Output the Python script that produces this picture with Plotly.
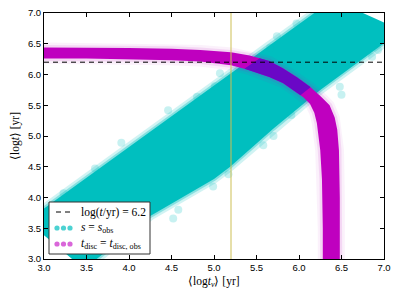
import plotly.graph_objects as go

# ---------------- data ----------------
# cyan band (s = s_obs): edges of the dense cloud
cyan_upper_x = [2.80, 3.19, 3.46, 3.66, 4.25, 4.80, 5.30, 5.74, 6.13, 6.40]
cyan_upper_y = [3.62, 4.01, 4.29, 4.48, 5.07, 5.62, 6.12, 6.56, 6.95, 7.22]
cyan_lower_x = [3.45, 3.62, 4.25, 5.00, 5.19, 5.70, 6.25, 7.00, 7.20]
cyan_lower_y = [2.86, 3.00, 3.70, 4.30, 4.50, 5.12, 5.75, 6.51, 6.72]
# sparse cyan points outside the dense band
cyan_out_x = [3.23, 3.60, 3.91, 4.46, 4.80, 5.07, 5.66, 5.74, 5.97, 4.52, 4.58,
              4.99, 5.17, 5.58, 5.70, 5.91, 6.48, 6.50, 6.86, 6.93, 5.01]
cyan_out_y = [4.07, 4.47, 4.89, 5.42, 5.64, 6.02, 6.43, 6.62, 6.83, 3.66, 3.80,
              4.18, 4.38, 4.85, 5.00, 5.34, 5.80, 5.67, 6.29, 6.40, 5.81]

# magenta band (t_disc = t_disc,obs): outer (top/right) and inner (bottom/left) edges
mag_outer_x = [2.90, 3.50, 4.00, 4.50, 4.84, 5.20, 5.42, 5.65, 5.81, 5.98, 6.13, 6.26, 6.36, 6.42, 6.45, 6.47, 6.48, 6.48]
mag_outer_y = [6.44, 6.44, 6.43, 6.42, 6.40, 6.36, 6.31, 6.22, 6.10, 5.95, 5.80, 5.64, 5.50, 5.30, 5.10, 4.77, 4.00, 2.90]
mag_inner_x = [2.90, 3.50, 4.00, 4.50, 4.84, 5.20, 5.42, 5.65, 5.81, 5.95, 6.05, 6.13, 6.18, 6.21, 6.25, 6.27, 6.28, 6.28]
mag_inner_y = [6.26, 6.26, 6.25, 6.23, 6.21, 6.15, 6.07, 5.96, 5.86, 5.73, 5.63, 5.52, 5.38, 5.21, 4.77, 4.30, 3.50, 2.90]

hline_y = 6.2        # log(t/yr) = 6.2
vline_x = 5.2
x_range = [3.0, 7.0]
y_range = [3.0, 7.0]
tick_vals = [3.0, 3.5, 4.0, 4.5, 5.0, 5.5, 6.0, 6.5, 7.0]
tick_text = ["3.0", "3.5", "4.0", "4.5", "5.0", "5.5", "6.0", "6.5", "7.0"]

legend_labels = ["log(<i>t</i>/yr) = 6.2",
                 "<i>s</i> = <i>s</i><sub>obs</sub>",
                 "<i>t</i><sub>disc</sub> = <i>t</i><sub>disc, obs</sub>"]
x_title = "⟨log<i>t</i><sub><i>ν</i></sub>⟩ [yr]"
y_title = "⟨log<i>t</i>⟩ [yr]"

# ---------------- styles ----------------
CYAN = "rgb(0,191,191)"
MAG = "rgb(191,0,191)"
VIOLET = "rgb(106,8,198)"

cyan_poly = list(zip(cyan_upper_x, cyan_upper_y)) + list(zip(cyan_lower_x[::-1], cyan_lower_y[::-1]))
mag_poly = list(zip(mag_outer_x, mag_outer_y)) + list(zip(mag_inner_x[::-1], mag_inner_y[::-1]))


def clip_polygon(subject, clipper):
    """Sutherland-Hodgman clipping of subject against (roughly convex) clipper."""
    area = 0.0
    n = len(clipper)
    for i in range(n):
        x1, y1 = clipper[i]
        x2, y2 = clipper[(i + 1) % n]
        area += x1 * y2 - x2 * y1
    s = 1.0 if area > 0 else -1.0

    def inside(p, a, b):
        return s * ((b[0] - a[0]) * (p[1] - a[1]) - (b[1] - a[1]) * (p[0] - a[0])) >= 0

    def inter(p, q, a, b):
        x1, y1 = p; x2, y2 = q; x3, y3 = a; x4, y4 = b
        den = (x1 - x2) * (y3 - y4) - (y1 - y2) * (x3 - x4)
        if den == 0:
            return q
        t = ((x1 - x3) * (y3 - y4) - (y1 - y3) * (x3 - x4)) / den
        return (x1 + t * (x2 - x1), y1 + t * (y2 - y1))

    out = list(subject)
    for i in range(n):
        a = clipper[i]
        b = clipper[(i + 1) % n]
        inp = out
        out = []
        if not inp:
            break
        prev = inp[-1]
        for cur in inp:
            if inside(cur, a, b):
                if not inside(prev, a, b):
                    out.append(inter(prev, cur, a, b))
                out.append(cur)
            elif inside(prev, a, b):
                out.append(inter(prev, cur, a, b))
            prev = cur
    return out


overlap = clip_polygon(mag_poly, cyan_poly)

fig = go.Figure()


def closed(poly):
    return [p[0] for p in poly] + [poly[0][0]], [p[1] for p in poly] + [poly[0][1]]


# cyan soft edges
for xs, ys in [(cyan_upper_x, cyan_upper_y), (cyan_lower_x, cyan_lower_y)]:
    fig.add_trace(go.Scatter(x=xs, y=ys, mode="lines", line=dict(color=CYAN, width=9),
                             opacity=0.18, hoverinfo="skip", showlegend=False))
    fig.add_trace(go.Scatter(x=xs, y=ys, mode="lines", line=dict(color=CYAN, width=4),
                             opacity=0.35, hoverinfo="skip", showlegend=False))
# cyan dense band
cx, cy = closed(cyan_poly)
fig.add_trace(go.Scatter(x=cx, y=cy, mode="lines", fill="toself", fillcolor=CYAN,
                         line=dict(width=0, color=CYAN), hoverinfo="skip", showlegend=False))
# cyan sparse points
fig.add_trace(go.Scatter(x=cyan_out_x, y=cyan_out_y, mode="markers",
                         marker=dict(color=CYAN, size=8, opacity=0.22, line=dict(width=0)),
                         hoverinfo="skip", showlegend=False))

# magenta soft edges
for xs, ys in [(mag_outer_x, mag_outer_y), (mag_inner_x, mag_inner_y)]:
    fig.add_trace(go.Scatter(x=xs, y=ys, mode="lines", line=dict(color=MAG, width=10),
                             opacity=0.05, hoverinfo="skip", showlegend=False))
    fig.add_trace(go.Scatter(x=xs, y=ys, mode="lines", line=dict(color=MAG, width=5),
                             opacity=0.10, hoverinfo="skip", showlegend=False))
# magenta dense band
mx, my = closed(mag_poly)
fig.add_trace(go.Scatter(x=mx, y=my, mode="lines", fill="toself", fillcolor=MAG,
                         line=dict(width=0, color=MAG), hoverinfo="skip", showlegend=False))
# overlap of the two dense bands
if overlap:
    ox, oy = closed(overlap)
    fig.add_trace(go.Scatter(x=ox, y=oy, mode="lines", fill="toself", fillcolor=VIOLET,
                             line=dict(width=0, color=VIOLET), hoverinfo="skip", showlegend=False))

# reference lines
fig.add_trace(go.Scatter(x=x_range, y=[hline_y, hline_y], mode="lines",
                         line=dict(color="black", width=1, dash="5px,4px"),
                         hoverinfo="skip", showlegend=False))
fig.add_trace(go.Scatter(x=[vline_x, vline_x], y=y_range, mode="lines",
                         line=dict(color="#cdbf55", width=1),
                         hoverinfo="skip", showlegend=False))


# ---------------- manual legend (matplotlib style) ----------------
def px_x(p):
    return (p - 44) / 340.0


def px_y(p):
    return (259 - p) / 246.0


shapes = [dict(type="rect", xref="paper", yref="paper", x0=px_x(49), x1=px_x(150),
               y0=px_y(254), y1=px_y(202), fillcolor="white",
               line=dict(color="#333333", width=1), layer="above")]
row_y = [212, 228, 244]
for a, b in [(56, 61), (65, 70)]:
    shapes.append(dict(type="line", xref="paper", yref="paper", x0=px_x(a), x1=px_x(b),
                       y0=px_y(row_y[0]), y1=px_y(row_y[0]),
                       line=dict(color="black", width=1), layer="above"))
for row, col in [(row_y[1], "rgba(0,191,191,0.7)"), (row_y[2], "rgba(191,0,191,0.6)")]:
    for cxp in [57, 63.5, 70]:
        shapes.append(dict(type="circle", xref="paper", yref="paper",
                           xsizemode="pixel", ysizemode="pixel",
                           xanchor=px_x(cxp), yanchor=px_y(row),
                           x0=-2.6, x1=2.6, y0=-2.6, y1=2.6,
                           fillcolor=col, line=dict(width=0), layer="above"))
annotations = []
for lab, row in zip(legend_labels, row_y):
    annotations.append(dict(text=lab, xref="paper", yref="paper", x=px_x(79), y=px_y(row),
                            xanchor="left", yanchor="middle", showarrow=False,
                            font=dict(family="Liberation Serif", size=11.5, color="black")))
# axis titles
annotations.append(dict(text=x_title, xref="paper", yref="paper", x=0.5, y=px_y(282),
                        xanchor="center", yanchor="middle", showarrow=False,
                        font=dict(family="Liberation Serif", size=11.5, color="black")))
annotations.append(dict(text=y_title, xref="paper", yref="paper", x=px_x(15), y=0.5,
                        xanchor="center", yanchor="middle", showarrow=False, textangle=-90,
                        font=dict(family="Liberation Serif", size=11.5, color="black")))

axis_common = dict(showgrid=False, zeroline=False, showline=True, linecolor="black",
                   linewidth=1, mirror="ticks", ticks="inside", ticklen=4, tickcolor="black",
                   tickwidth=1, tickvals=tick_vals, ticktext=tick_text, automargin=False,
                   tickfont=dict(family="Liberation Sans", size=9.5, color="black"))

fig.update_layout(
    width=399, height=299,
    margin=dict(l=44, r=15, t=13, b=40),
    paper_bgcolor="white", plot_bgcolor="white",
    showlegend=False,
    xaxis=dict(range=x_range, **axis_common),
    yaxis=dict(range=y_range, **axis_common),
    shapes=shapes,
    annotations=annotations,
)

fig.write_html("out.html", config={"displayModeBar": False},
               post_script="document.body.style.margin='0';document.body.style.padding='0';")
